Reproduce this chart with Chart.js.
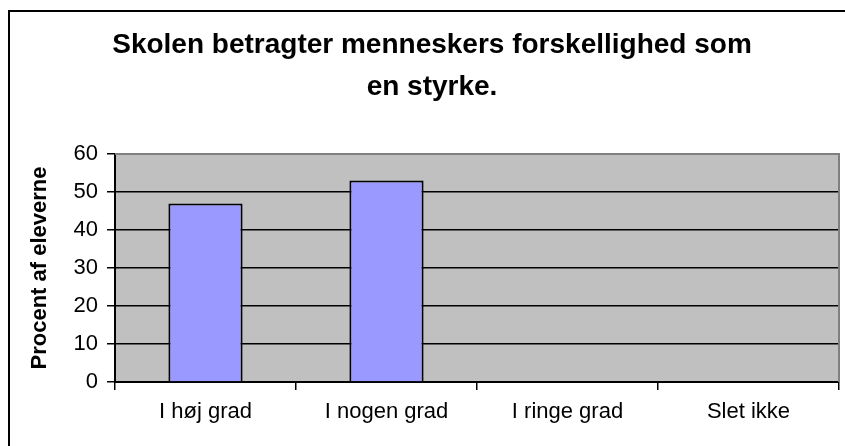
<!DOCTYPE html>
<html>
<head>
<meta charset="utf-8">
<script src="https://cdn.jsdelivr.net/npm/chart.js@4/dist/chart.umd.min.js"></script>
<style>
    html, body { margin: 0; padding: 0; background: #fff; }
    #wrap { width: 845px; height: 446px; position: relative; }
</style>
</head>
<body>
<div id="wrap"><canvas id="chart-bars" width="845" height="446"></canvas></div>
<script>
// Data
var categories = ['I høj grad', 'I nogen grad', 'I ringe grad', 'Slet ikke'];
var percentValues = [47, 53, 0, 0];
var yTicks = [0, 10, 20, 30, 40, 50, 60];
var titleLines = ['Skolen betragter menneskers forskellighed som', 'en styrke.'];
var yAxisTitle = 'Procent af eleverne';

var FONT = 'Arial, "Liberation Sans", sans-serif';

// Gray plot area, frame and the two-line title
var excelLook = {
    id: 'excelLook',
    beforeDraw: function (chart) {
        var ctx = chart.ctx, a = chart.chartArea;
        ctx.save();
        ctx.fillStyle = '#fff';
        ctx.fillRect(0, 0, chart.width, chart.height);
        ctx.fillStyle = '#C0C0C0';
        ctx.fillRect(a.left, a.top, a.right - a.left, a.bottom - a.top);
        ctx.restore();
    },
    afterDraw: function (chart) {
        var ctx = chart.ctx, a = chart.chartArea;
        ctx.save();
        // plot border top / right
        ctx.strokeStyle = '#808080';
        ctx.lineWidth = 2;
        ctx.beginPath();
        ctx.moveTo(a.left, a.top);
        ctx.lineTo(a.right, a.top);
        ctx.lineTo(a.right, a.bottom);
        ctx.stroke();
        // outer chart border
        ctx.strokeStyle = '#000';
        ctx.lineWidth = 2;
        ctx.strokeRect(9, 11, 1000, 1000);
        // title
        ctx.fillStyle = '#000';
        ctx.font = 'bold 28px ' + FONT;
        ctx.textAlign = 'center';
        ctx.textBaseline = 'middle';
        ctx.fillText(titleLines[0], 432, 45);
        ctx.fillText(titleLines[1], 432, 87);
        ctx.restore();
    }
};

new Chart(document.getElementById('chart-bars').getContext('2d'), {
    type: 'bar',
    data: {
        labels: categories,
        datasets: [{
            label: 'Procent',
            data: percentValues,
            backgroundColor: '#9999FF',
            borderColor: '#000',
            borderWidth: 2,
            barPercentage: 1,
            categoryPercentage: 0.41
        }]
    },
    options: {
        responsive: false,
        maintainAspectRatio: false,
        animation: false,
        layout: { padding: { top: 154, right: 6, left: 0, bottom: 0 } },
        plugins: {
            legend: { display: false },
            title: { display: false },
            tooltip: { enabled: false }
        },
        scales: {
            x: {
                grid: { offset: true, drawOnChartArea: false, drawTicks: true, tickLength: 8, color: '#000', lineWidth: 1.5 },
                border: { color: '#000', width: 2 },
                ticks: { color: '#000', font: { family: FONT, size: 22 }, padding: 9, maxRotation: 0 },
                afterFit: function (s) { s.height = 64; }
            },
            y: {
                min: 0,
                max: 60,
                afterBuildTicks: function (s) { s.ticks = yTicks.map(function (v) { return { value: v }; }); },
                grid: { color: '#000', lineWidth: 1.5, tickLength: 8 },
                border: { color: '#000', width: 2 },
                ticks: { color: '#000', font: { family: FONT, size: 22 }, padding: 9 },
                title: {
                    display: true,
                    text: yAxisTitle,
                    color: '#000',
                    font: { family: FONT, size: 22, weight: 'bold' },
                    padding: { top: 27, bottom: 0 }
                },
                afterFit: function (s) { s.width = 115; }
            }
        }
    },
    plugins: [excelLook]
});
</script>
</body>
</html>
